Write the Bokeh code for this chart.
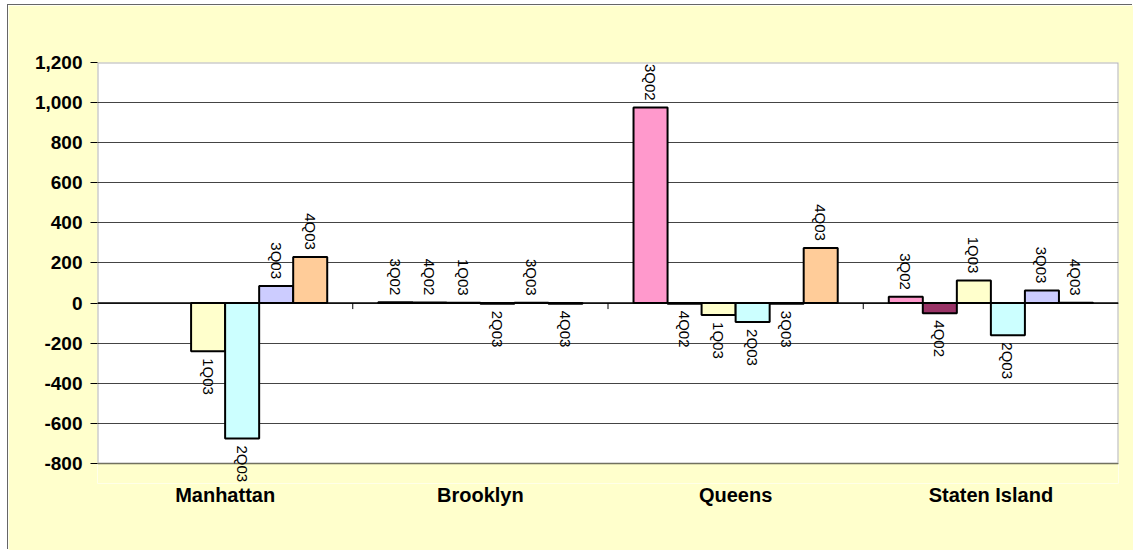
import math
from bokeh.plotting import figure
from bokeh.models import (ColumnDataSource, LabelSet, Span, Range1d, FixedTicker,
                          NumeralTickFormatter, BoxAnnotation)
from bokeh.core.properties import value
from bokeh.embed import file_html
from bokeh.resources import INLINE

categories = ["Manhattan", "Brooklyn", "Queens", "Staten Island"]
quarters = ["3Q02", "4Q02", "1Q03", "2Q03", "3Q03", "4Q03"]
nan = float("nan")
q3_02 = [nan, 4, 975, 31]
q4_02 = [nan, 3, -4, -51]
q1_03 = [-240, 2, -60, 113]
q2_03 = [-675, -3, -95, -161]
q3_03 = [85, 2, -4, 63]
q4_03 = [230, -3, 275, 2]
series = [q3_02, q4_02, q1_03, q2_03, q3_03, q4_03]
colors = ["#FF99CC", "#993366", "#FFFFCC", "#CCFFFF", "#CCCCFF", "#FFCC99"]
y_ticks = [-800, -600, -400, -200, 0, 200, 400, 600, 800, 1000, 1200]

FONT = "Liberation Sans"
YMIN, YMAX, YLOW = -800, 1200, -900
group = 0.8
bw = group / len(series)
ncat = len(categories)

p = figure(width=1125, height=545, output_backend="svg", toolbar_location=None,
           x_range=Range1d(0, ncat), y_range=Range1d(YLOW, YMAX),
           min_border_left=89, min_border_top=57, min_border_right=15,
           min_border_bottom=67)
p.margin = (5, 0, 0, 8)
p.styles = {"box-shadow": "-1px -1px 0 0 #666"}
p.background_fill_color = "white"
p.border_fill_color = "#FFFFCC"
p.outline_line_color = None

# area below the lowest tick belongs to the chart background
p.add_layout(BoxAnnotation(top=YMIN, fill_color="#FFFFCC", fill_alpha=1,
                           line_color=None, level="underlay"))
# plot-area border
p.add_layout(BoxAnnotation(left=0, right=ncat, bottom=YMIN, top=YMAX,
                           fill_alpha=0, line_color="black", line_width=2,
                           level="glyph"))

# grid
p.xgrid.visible = False
p.ygrid.ticker = FixedTicker(ticks=y_ticks)
p.ygrid.grid_line_color = "#444444"
p.ygrid.grid_line_width = 1

# y axis
p.yaxis.ticker = FixedTicker(ticks=y_ticks)
p.yaxis.formatter = NumeralTickFormatter(format="0,0")
p.yaxis.axis_line_color = None
p.yaxis.major_tick_out = 7
p.yaxis.major_tick_in = 0
p.yaxis.major_tick_line_color = "black"
p.yaxis.minor_tick_line_color = None
p.yaxis.major_label_text_font = FONT
p.yaxis.major_label_text_font_style = "bold"
p.yaxis.major_label_text_font_size = "19px"
p.yaxis.major_label_text_color = "black"
p.yaxis.major_label_standoff = 8

# x axis (category labels at the bottom)
centers = [i + 0.5 for i in range(ncat)]
p.xaxis.ticker = FixedTicker(ticks=centers)
p.xaxis.major_label_overrides = {c: name for c, name in zip(centers, categories)}
p.xaxis.axis_line_color = None
p.xaxis.major_tick_line_color = None
p.xaxis.major_tick_out = 0
p.xaxis.major_tick_in = 0
p.xaxis.minor_tick_line_color = None
p.xaxis.major_label_text_font = FONT
p.xaxis.major_label_text_font_style = "bold"
p.xaxis.major_label_text_font_size = "20px"
p.xaxis.major_label_text_color = "black"
p.xaxis.major_label_standoff = 0

# zero line and category separators
p.add_layout(Span(location=0, dimension="width", line_color="black", line_width=1.5))
sep_x = [float(i) for i in range(1, ncat)]
p.segment(x0=sep_x, y0=[0] * len(sep_x), x1=sep_x, y1=[-30] * len(sep_x),
          line_color="black", line_width=1)

pos = dict(x=[], y=[], t=[])
neg = dict(x=[], y=[], t=[])
for j, (vals, col, q) in enumerate(zip(series, colors, quarters)):
    xs = [c + (j - (len(series) - 1) / 2) * bw for c in centers]
    p.vbar(x=xs, top=vals, bottom=0, width=bw, fill_color=col,
           line_color="black", line_width=2)
    for x, v in zip(xs, vals):
        if isinstance(v, float) and math.isnan(v):
            continue
        d = pos if v >= 0 else neg
        d["x"].append(x)
        d["y"].append(v)
        d["t"].append(q)

common = dict(x="x", y="y", text="t", angle=-math.pi / 2, text_font=value(FONT),
              text_font_size="15px", text_color="black", text_baseline="middle")
p.add_layout(LabelSet(source=ColumnDataSource(pos), text_align="right",
                      y_offset=7, **common))
p.add_layout(LabelSet(source=ColumnDataSource(neg), text_align="left",
                      y_offset=-7, **common))

open("out.html", "w").write(file_html(p, INLINE))
